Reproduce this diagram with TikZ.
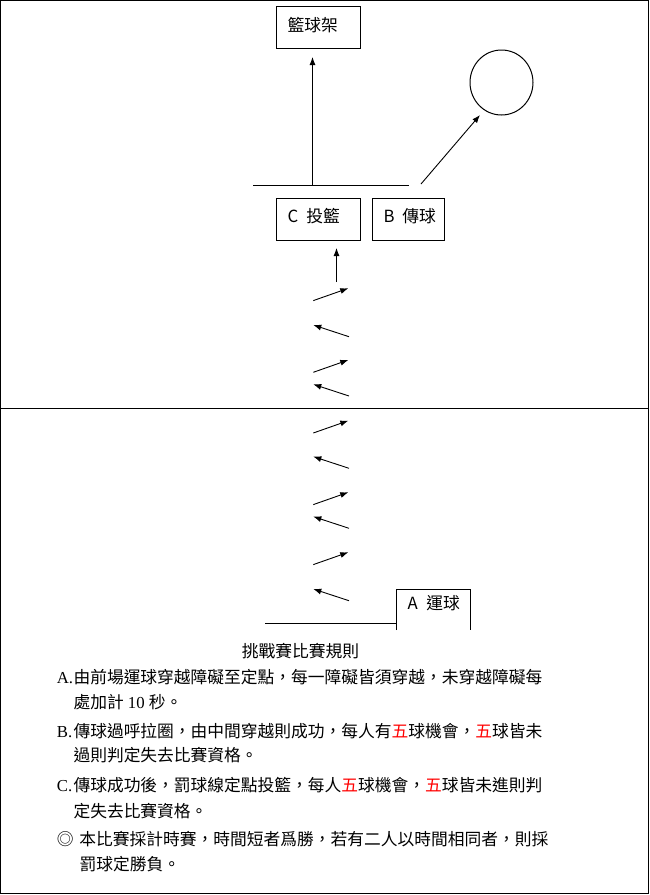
\documentclass[tikz,border=0pt]{standalone}
\usepackage{fontspec}
\setmainfont{Liberation Serif}
\newfontfamily\cjk{Noto Sans CJK TC}
\usetikzlibrary{arrows.meta,shapes.geometric}
\newcommand{\fsz}{\fontsize{16.75pt}{20pt}\selectfont}
\newcommand{\rd}[1]{\textcolor{red}{#1}}
\tikzset{
 ln/.style={line width=1pt},
 arr/.style={line width=0.9pt,-{Latex[length=8pt,width=6pt]}},
 boxnode/.style={draw,line width=1pt,anchor=north west,inner ysep=0pt,inner xsep=11pt,align=left,font=\cjk\fsz},
 ruletext/.style={anchor=base west,inner sep=0pt,font=\cjk\fsz},
}
\begin{document}
\begin{tikzpicture}[x=1pt,y=-1pt]
\useasboundingbox (0,0) rectangle (650,895);
\draw[ln] (0.5,0.5) rectangle (648.5,893.5);
\coordinate (midL) at (0.5,408.3);
\coordinate (midR) at (648.5,408.3);
\draw[ln] (midL) -- (midR);
% boxes
\node[boxnode,text width=62pt,text height=25pt,text depth=17pt] (hoop) at (276,6) {籃球架};
\node[draw,ellipse,line width=1pt,minimum width=63pt,minimum height=65pt,inner sep=0pt] (ball) at (501.5,82.5) {};
\node[boxnode,text width=62pt,text height=24pt,text depth=18pt] (C) at (276,198) {\makebox[19pt][l]{C}投籃};
\node[boxnode,text width=50pt,text height=24pt,text depth=18pt] (B) at (372,198) {\makebox[19pt][l]{B}傳球};
\node[boxnode,draw=none,text width=51pt,text height=20pt,text depth=20pt] (A) at (396,589) {\makebox[19pt][l]{A}運球};
\draw[ln] (A.south west) -- (A.north west) -- (A.north east) -- (A.south east);
% top line and arrows
\coordinate (hl1) at (253,185);
\coordinate (hl2) at (409,185);
\draw[ln] (hl1) -- (hl2);
\coordinate (hlm) at (312.5,185);
\draw[arr,shorten >=8pt] (hlm) -- (hlm |- hoop.south);
\coordinate (bs) at (421,184);
\coordinate (bt) at (480,115);
\draw[arr] (bs) -- (bt);
\coordinate (cs) at (336.5,282);
\draw[arr,shorten >=7pt] (cs) -- (cs |- C.south);
% zigzag arrows
\foreach \y [count=\i] in {288.3,360,420.7,492.3,552.3}{
  \coordinate (r\i s) at (313.3,\y+12.3);
  \coordinate (r\i e) at (348.3,\y);
  \draw[arr] (r\i s) -- (r\i e);
}
\foreach \y [count=\i] in {336.7,396,468.3,528.3,600.7}{
  \coordinate (l\i s) at (349,\y);
  \coordinate (l\i e) at (313.3,\y-11.7);
  \draw[arr] (l\i s) -- (l\i e);
}
% bottom line
\coordinate (bl) at (265,623.3);
\draw[ln] (bl) -- (bl -| A.west);
% rules text
\node[ruletext,anchor=base] (title) at (300.5,657) {挑戰賽比賽規則};
\node[ruletext] (ra1) at (56.7,683) {\makebox[16.6pt][l]{\rmfamily A.}由前場運球穿越障礙至定點，每一障礙皆須穿越，未穿越障礙每};
\node[ruletext] (ra2) at (73.3,708.5) {處加計{\rmfamily\ 10\ }秒。};
\node[ruletext] (rb1) at (56.7,737) {\makebox[16.6pt][l]{\rmfamily B.}傳球過呼拉圈，由中間穿越則成功，每人有\rd{五}球機會，\rd{五}球皆未};
\node[ruletext] (rb2) at (73.3,761) {過則判定失去比賽資格。};
\node[ruletext] (rc1) at (56.7,791) {\makebox[16.6pt][l]{\rmfamily C.}傳球成功後，罰球線定點投籃，每人\rd{五}球機會，\rd{五}球皆未進則判};
\node[ruletext] (rc2) at (73.3,817) {定失去比賽資格。};
\node[ruletext] (rd1) at (56.7,845) {\makebox[22.6pt][l]{◎}本比賽採計時賽，時間短者爲勝，若有二人以時間相同者，則採};
\node[ruletext] (rd2) at (79.3,870) {罰球定勝負。};
\end{tikzpicture}
\end{document}
